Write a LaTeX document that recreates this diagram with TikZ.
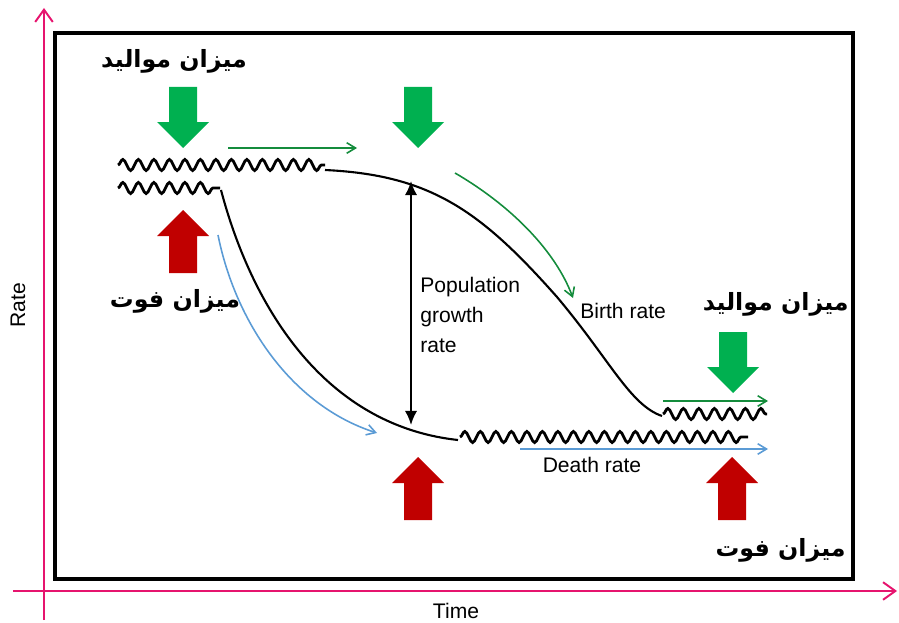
\documentclass[tikz,border=0pt]{standalone}
\usepackage{fontspec}
\setmainfont{Liberation Sans}
\newfontfamily\farsifont[Script=Arabic]{DejaVu Sans}
\TeXXeTstate=1
\usetikzlibrary{arrows.meta,decorations.pathmorphing}

\definecolor{axispink}{RGB}{230,20,110}
\definecolor{blockgreen}{RGB}{0,176,80}
\definecolor{blockred}{RGB}{192,0,0}
\definecolor{linegreen}{RGB}{20,140,60}
\definecolor{lineblue}{RGB}{91,155,213}

\tikzset{
  wave/.style={line width=1.6pt, decorate, decoration={snake, segment length=3.1mm, amplitude=1.1mm}},
  curve/.style={line width=1.2pt},
  eng/.style={font=\fontsize{12}{17}\selectfont, inner sep=0pt},
  farsi/.style={font=\farsifont\bfseries\fontsize{13.5}{16}\selectfont, inner sep=0pt},
  thinarrow/.style={line width=0.9pt, -{Straight Barb[length=5pt,width=6pt]}},
  downblock/.pic={\fill[blockgreen] (0,0) -- (-26,-26) -- (-14,-26) -- (-14,-61) -- (14,-61) -- (14,-26) -- (26,-26) -- cycle;},
  upblock/.pic={\fill[blockred] (0,0) -- (-26,26) -- (-14,26) -- (-14,63) -- (14,63) -- (14,26) -- (26,26) -- cycle;}
}

\begin{document}
\begin{tikzpicture}[x=0.2mm,y=-0.2mm]
\useasboundingbox (0,0) rectangle (899,623);

% axes and frame
\draw[axispink, line width=1.1pt, -{Straight Barb[length=7pt,width=10pt]}] (44,620) -- (44,8);
\draw[axispink, line width=1.1pt, -{Straight Barb[length=7pt,width=10pt]}] (13,591) -- (897,591);
\draw[line width=2.8pt] (55,33) rectangle (853,579);

\node[eng, rotate=90] (ratelbl) at (18,305) {Rate};
\node[eng] (timelbl) at (456,611) {Time};

% birth rate
\draw[wave] (118,165) -- (325,165);
\draw[curve] (325,170) .. controls (430,175) and (480,210) .. (557,297) .. controls (610,360) and (630,405) .. (662,416);
\draw[wave] (663,414) -- (767,414);

% death rate
\draw[wave] (118,188) -- (220,188);
\draw[curve] (221,190) .. controls (250,300) and (320,425) .. (458,440);
\draw[wave] (460,437) -- (748,437);

\coordinate (gtop) at (411,181);
\coordinate (gbot) at (411,425);
\draw[line width=1.2pt, {Latex[length=8pt,width=7pt]}-{Latex[length=8pt,width=7pt]}] (gtop) -- (gbot);

% thin arrows
\draw[thinarrow, linegreen] (228,148) -- (357,148);
\draw[thinarrow, linegreen] (455,173) .. controls (510,205) and (555,250) .. (573,298);
\draw[thinarrow, linegreen] (663,401) -- (768,401);
\draw[thinarrow, lineblue] (218,235) .. controls (235,320) and (290,405) .. (377,433);
\draw[thinarrow, lineblue] (520,449) -- (768,449);

% block arrows
\pic at (183,148) {downblock};
\pic at (418,148) {downblock};
\pic at (733,393) {downblock};
\pic at (183,210) {upblock};
\pic at (418,457) {upblock};
\pic at (732,457) {upblock};

% texts
\node[eng, anchor=north west, align=left] (growthlbl) at (420,277) {Population\\growth\\rate};
\node[eng, anchor=west] (birthlbl) at (580,311) {Birth rate};
\node[eng] (deathlbl) at (592,465) {Death rate};

\node[farsi] (birthtl) at (174,61) {\beginR میزان موالید\endR};
\node[farsi] (deathl) at (175,301) {\beginR میزان فوت\endR};
\node[farsi, anchor=east] (birthr) at (849,304) {\beginR میزان موالید\endR};
\node[farsi, anchor=east] (deathr) at (846,550) {\beginR میزان فوت\endR};
\end{tikzpicture}
\end{document}
